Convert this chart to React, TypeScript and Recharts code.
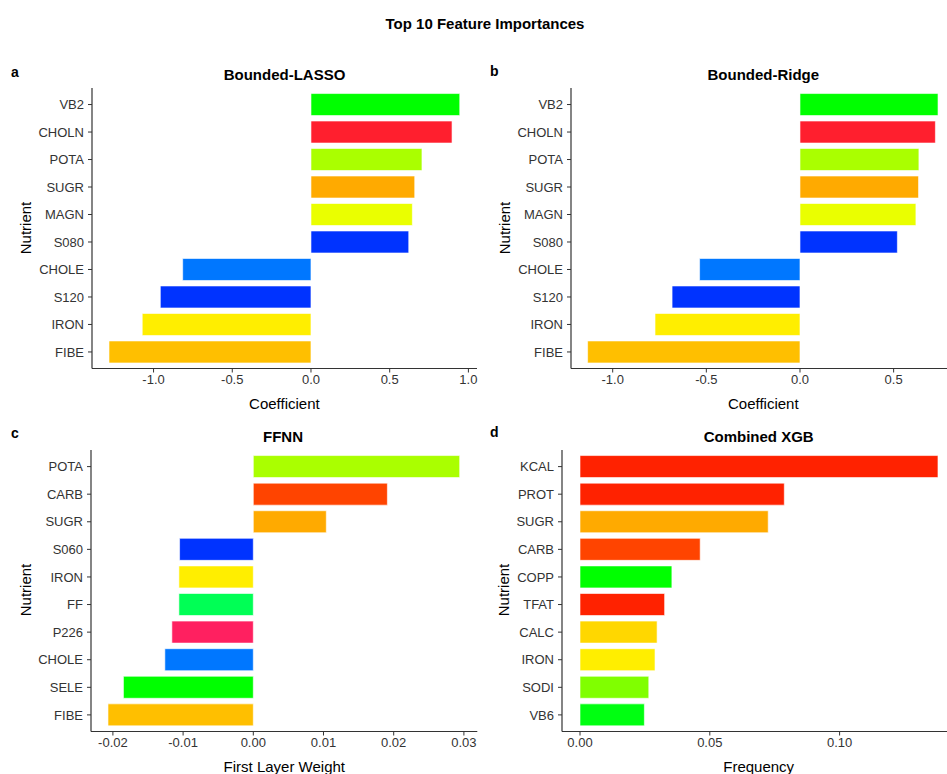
import React from "react";
import { BarChart, Bar, XAxis, YAxis, Cell } from "recharts";

// ---- Data ----
const lassoNutrients = ["VB2", "CHOLN", "POTA", "SUGR", "MAGN", "S080", "CHOLE", "S120", "IRON", "FIBE"];
const lassoValues = [0.945, 0.896, 0.705, 0.659, 0.644, 0.621, -0.815, -0.957, -1.072, -1.283];
const lassoColors = ["#00FF00", "#FF1F2E", "#AAFF00", "#FFAA00", "#EAFF00", "#0033FF", "#0077FF", "#0033FF", "#FFEE00", "#FFBF00"];

const ridgeNutrients = ["VB2", "CHOLN", "POTA", "SUGR", "MAGN", "S080", "CHOLE", "S120", "IRON", "FIBE"];
const ridgeValues = [0.737, 0.723, 0.635, 0.633, 0.619, 0.52, -0.536, -0.683, -0.774, -1.134];
const ridgeColors = ["#00FF00", "#FF1F2E", "#AAFF00", "#FFAA00", "#EAFF00", "#0033FF", "#0077FF", "#0033FF", "#FFEE00", "#FFBF00"];

const ffnnNutrients = ["POTA", "CARB", "SUGR", "S060", "IRON", "FF", "P226", "CHOLE", "SELE", "FIBE"];
const ffnnValues = [0.0294, 0.0191, 0.0104, -0.0105, -0.0106, -0.0106, -0.0116, -0.0126, -0.0185, -0.0207];
const ffnnColors = ["#AAFF00", "#FF4400", "#FFAA00", "#0033FF", "#FFEE00", "#00FF55", "#FF2060", "#0077FF", "#00FF00", "#FFBF00"];

const xgbNutrients = ["KCAL", "PROT", "SUGR", "CARB", "COPP", "TFAT", "CALC", "IRON", "SODI", "VB6"];
const xgbValues = [0.1379, 0.0787, 0.0725, 0.0463, 0.0354, 0.0326, 0.0297, 0.0289, 0.0265, 0.0248];
const xgbColors = ["#FF2200", "#FF2200", "#FFAA00", "#FF4400", "#00FF00", "#FF2200", "#FFD700", "#FFEE00", "#80FF00", "#00FF11"];

const coefTicks = [-1, -0.5, 0, 0.5, 1];
const ridgeTicks = [-1, -0.5, 0, 0.5];
const ffnnTicks = [-0.02, -0.01, 0, 0.01, 0.02, 0.03];
const xgbTicks = [0, 0.05, 0.1];

const FONT = "'Liberation Sans', Arial, Helvetica, sans-serif";

type PanelProps = {
  names: string[];
  values: number[];
  colors: string[];
  domain: [number, number];
  ticks: number[];
  digits: number;
  left: number;
  top: number;
  width: number;
  height: number;
  margin: { top: number; right: number; bottom: number; left: number };
  yWidth: number;
};

function Panel(p: PanelProps) {
  const data = p.names.map((n, i) => ({ name: n, value: p.values[i] }));
  return (
    <div style={{ position: "absolute", left: p.left, top: p.top }}>
      <BarChart
        width={p.width}
        height={p.height}
        data={data}
        layout="vertical"
        margin={p.margin}
        barCategoryGap="10%"
      >
        <XAxis
          type="number"
          domain={p.domain}
          ticks={p.ticks}
          allowDataOverflow
          height={20}
          tickSize={4}
          tickMargin={2}
          tickFormatter={(v: number) => v.toFixed(p.digits)}
          axisLine={{ stroke: "#333", strokeWidth: 1.2 }}
          tickLine={{ stroke: "#333", strokeWidth: 1 }}
          tick={{ fill: "#333", fontSize: 13, fontFamily: FONT }}
          interval={0}
        />
        <YAxis
          type="category"
          dataKey="name"
          width={p.yWidth}
          tickSize={4}
          tickMargin={4}
          padding={{ top: 2.8, bottom: 2.8 }}
          axisLine={{ stroke: "#333", strokeWidth: 1.2 }}
          tickLine={{ stroke: "#333", strokeWidth: 1 }}
          tick={{ fill: "#333", fontSize: 13, fontFamily: FONT }}
          interval={0}
        />
        <Bar dataKey="value" isAnimationActive={false} stroke="#ffffff" strokeWidth={0.6}>
          {data.map((d, i) => (
            <Cell key={d.name} fill={p.colors[i]} />
          ))}
        </Bar>
      </BarChart>
    </div>
  );
}

function Txt(props: { x: number; y: number; text: string; size: number; bold?: boolean; rotate?: boolean; align?: "center" | "left" }) {
  const { x, y, text, size, bold, rotate, align } = props;
  const tx = align === "left" ? "0" : "-50%";
  return (
    <div
      style={{
        position: "absolute",
        left: x,
        top: y,
        transform: `translate(${tx}, -50%)${rotate ? " rotate(-90deg)" : ""}`,
        fontFamily: FONT,
        fontSize: size,
        fontWeight: bold ? 700 : 400,
        color: "#000",
        whiteSpace: "nowrap",
        lineHeight: 1,
      }}
    >
      {text}
    </div>
  );
}

export default function App() {
  return (
    <div
      style={{
        position: "absolute",
        left: 0,
        top: 0,
        width: 947,
        height: 774,
        overflow: "hidden",
        background: "#fff",
      }}
    >
      <Panel
        names={lassoNutrients}
        values={lassoValues}
        colors={lassoColors}
        domain={[-1.391, 1.0546]}
        ticks={coefTicks}
        digits={1}
        left={0}
        top={0}
        width={480}
        height={390}
        margin={{ top: 88, right: 3, bottom: 1.5, left: 0 }}
        yWidth={92}
      />
      <Panel
        names={ridgeNutrients}
        values={ridgeValues}
        colors={ridgeColors}
        domain={[-1.2226, 0.833]}
        ticks={ridgeTicks}
        digits={1}
        left={480}
        top={0}
        width={480}
        height={390}
        margin={{ top: 88, right: 4, bottom: 1.5, left: 0 }}
        yWidth={91}
      />
      <Panel
        names={ffnnNutrients}
        values={ffnnValues}
        colors={ffnnColors}
        domain={[-0.02312, 0.03191]}
        ticks={ffnnTicks}
        digits={2}
        left={0}
        top={390}
        width={480}
        height={384}
        margin={{ top: 60, right: 2.7, bottom: 22.5, left: 0 }}
        yWidth={91}
      />
      <Panel
        names={xgbNutrients}
        values={xgbValues}
        colors={xgbColors}
        domain={[-0.006934, 0.14484]}
        ticks={xgbTicks}
        digits={2}
        left={480}
        top={390}
        width={480}
        height={384}
        margin={{ top: 60, right: 4, bottom: 22.5, left: 0 }}
        yWidth={82}
      />

      <Txt x={485} y={23} text="Top 10 Feature Importances" size={15} bold />

      <Txt x={11} y={72} text="a" size={14} bold align="left" />
      <Txt x={490} y={71} text="b" size={14} bold align="left" />
      <Txt x={11} y={433} text="c" size={14} bold align="left" />
      <Txt x={490} y={432} text="d" size={14} bold align="left" />

      <Txt x={284.5} y={74} text="Bounded-LASSO" size={15} bold />
      <Txt x={763.3} y={74} text="Bounded-Ridge" size={15} bold />
      <Txt x={283} y={436} text="FFNN" size={15} bold />
      <Txt x={758.7} y={436} text="Combined XGB" size={15} bold />

      <Txt x={25} y={228} text="Nutrient" size={15} rotate />
      <Txt x={503.5} y={228} text="Nutrient" size={15} rotate />
      <Txt x={25} y={590} text="Nutrient" size={15} rotate />
      <Txt x={503.3} y={590} text="Nutrient" size={15} rotate />

      <Txt x={284.4} y={403} text="Coefficient" size={15} />
      <Txt x={763.3} y={403} text="Coefficient" size={15} />
      <Txt x={284.3} y={766} text="First Layer Weight" size={15} />
      <Txt x={758.7} y={766} text="Frequency" size={15} />
    </div>
  );
}
